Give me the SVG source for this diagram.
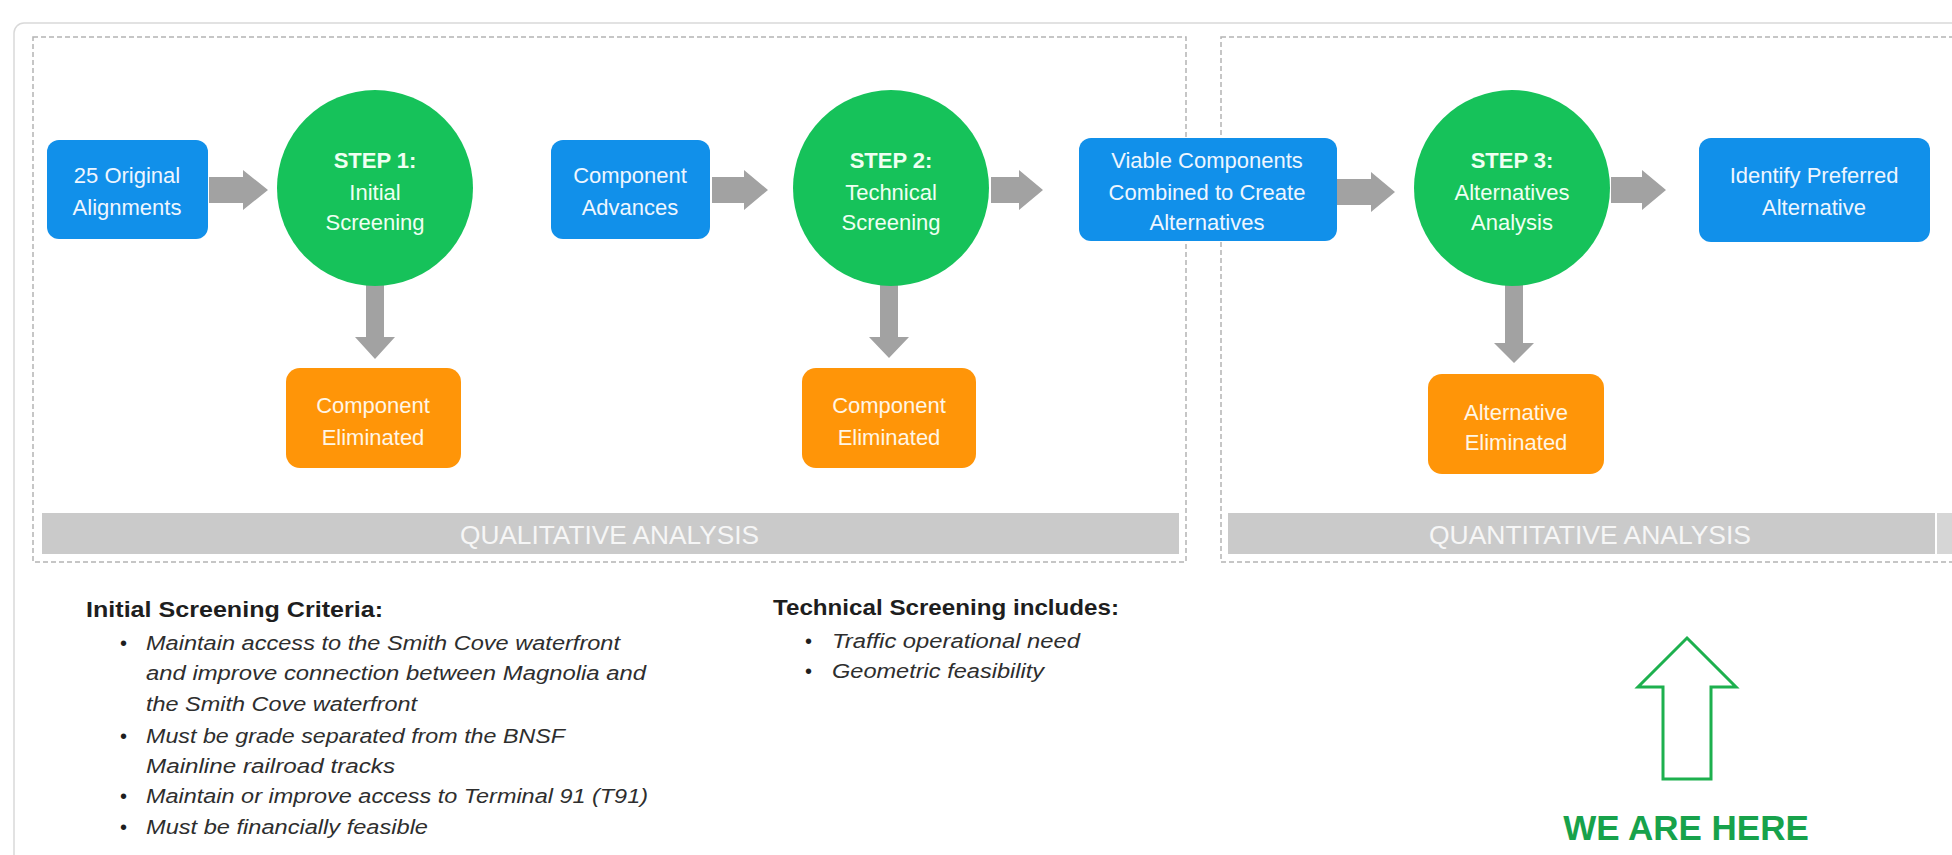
<svg xmlns="http://www.w3.org/2000/svg" width="1952" height="855" viewBox="0 0 1952 855">
<style>
.blue{fill:#1190EA}
.green{fill:#16C25A}
.orange{fill:#FF9508}
.arrow{fill:#A2A2A2}
.bar{fill:#CACACA}
.dash{fill:none;stroke:#B4B4B4;stroke-width:1.5;stroke-dasharray:5 3}
.lbl{font-family:"Liberation Sans",Arial,sans-serif;font-size:22px;fill:#EEF6FF;text-anchor:middle}
.lblg{font-family:"Liberation Sans",Arial,sans-serif;font-size:22px;fill:#EFFFF2;text-anchor:middle}
.lblo{font-family:"Liberation Sans",Arial,sans-serif;font-size:22px;fill:#FFF6E6;text-anchor:middle}
.b{font-weight:bold}
.bartxt{font-family:"Liberation Sans",Arial,sans-serif;font-size:25px;fill:#F6F6F6}
.head{font-family:"Liberation Sans",Arial,sans-serif;font-size:22px;font-weight:bold;fill:#1E1E1E}
.it{font-family:"Liberation Sans",Arial,sans-serif;font-size:20px;font-style:italic;fill:#2E2E2E}
.bul{font-family:"Liberation Sans",Arial,sans-serif;font-size:20px;fill:#1E1E1E}
</style>
<rect width="1952" height="855" fill="#FFFFFF"/>
<g id="frame">
<rect x="14" y="23" width="1960" height="860" rx="10" fill="none" stroke="#D9D9D9" stroke-width="1.5"/>
</g>
<g id="qualitative-panel">
<rect class="dash" x="33" y="37" width="1153" height="525"/>
<rect class="bar" x="42" y="513" width="1137" height="41"/>
<text class="bartxt" x="460" y="544" textLength="299" lengthAdjust="spacingAndGlyphs">QUALITATIVE ANALYSIS</text>
</g>
<g id="quantitative-panel">
<rect class="dash" x="1221" y="37" width="760" height="525"/>
<rect class="bar" x="1228" y="513" width="707" height="41"/>
<rect x="1937" y="513" width="20" height="41" fill="#D6D6D6"/>
<text class="bartxt" x="1429" y="544" textLength="322" lengthAdjust="spacingAndGlyphs">QUANTITATIVE ANALYSIS</text>
</g>
<g id="connectors">
<polygon class="arrow" points="209,177 243,177 243,170 268,190 243,210 243,203 209,203"/>
<polygon class="arrow" points="712,177 744,177 744,170 768,190 744,210 744,203 712,203"/>
<polygon class="arrow" points="991,177 1019,177 1019,170 1043,190 1019,210 1019,203 991,203"/>
<polygon class="arrow" points="1337,179 1371,179 1371,172 1395,192 1371,212 1371,205 1337,205"/>
<polygon class="arrow" points="1611,177 1642,177 1642,170 1666,190 1642,210 1642,203 1611,203"/>
<polygon class="arrow" points="366,284 384,284 384,337 395,337 375,359 355,337 366,337"/>
<polygon class="arrow" points="880,284 898,284 898,337 909,337 889,358 869,337 880,337"/>
<polygon class="arrow" points="1505,284 1523,284 1523,343 1534,343 1514,363 1494,343 1505,343"/>
</g>
<g id="node-original">
<rect class="blue" x="47" y="140" width="161" height="99" rx="12"/>
<text class="lbl" x="127" y="183">25 Original</text>
<text class="lbl" x="127" y="215">Alignments</text>
</g>
<g id="node-step1">
<circle class="green" cx="375" cy="188" r="98"/>
<text class="lblg b" x="375" y="168">STEP 1:</text>
<text class="lblg" x="375" y="200">Initial</text>
<text class="lblg" x="375" y="230">Screening</text>
</g>
<g id="node-advances">
<rect class="blue" x="551" y="140" width="159" height="99" rx="12"/>
<text class="lbl" x="630" y="183">Component</text>
<text class="lbl" x="630" y="215">Advances</text>
</g>
<g id="node-elim1">
<rect class="orange" x="286" y="368" width="175" height="100" rx="14"/>
<text class="lblo" x="373" y="413">Component</text>
<text class="lblo" x="373" y="445">Eliminated</text>
</g>
<g id="node-step2">
<circle class="green" cx="891" cy="188" r="98"/>
<text class="lblg b" x="891" y="168">STEP 2:</text>
<text class="lblg" x="891" y="200">Technical</text>
<text class="lblg" x="891" y="230">Screening</text>
</g>
<g id="node-elim2">
<rect class="orange" x="802" y="368" width="174" height="100" rx="14"/>
<text class="lblo" x="889" y="413">Component</text>
<text class="lblo" x="889" y="445">Eliminated</text>
</g>
<g id="node-viable">
<rect class="blue" x="1079" y="138" width="258" height="103" rx="12"/>
<text class="lbl" x="1207" y="168">Viable Components</text>
<text class="lbl" x="1207" y="200">Combined to Create</text>
<text class="lbl" x="1207" y="230">Alternatives</text>
</g>
<g id="node-step3">
<circle class="green" cx="1512" cy="188" r="98"/>
<text class="lblg b" x="1512" y="168">STEP 3:</text>
<text class="lblg" x="1512" y="200">Alternatives</text>
<text class="lblg" x="1512" y="230">Analysis</text>
</g>
<g id="node-elim3">
<rect class="orange" x="1428" y="374" width="176" height="100" rx="14"/>
<text class="lblo" x="1516" y="420">Alternative</text>
<text class="lblo" x="1516" y="450">Eliminated</text>
</g>
<g id="node-preferred">
<rect class="blue" x="1699" y="138" width="231" height="104" rx="12"/>
<text class="lbl" x="1814" y="183">Identify Preferred</text>
<text class="lbl" x="1814" y="215">Alternative</text>
</g>
<g id="initial-criteria">
<text class="head" x="86" y="617" textLength="297" lengthAdjust="spacingAndGlyphs">Initial Screening Criteria:</text>
<text class="bul" x="120" y="650">•</text>
<text class="it" x="146" y="650" textLength="474" lengthAdjust="spacingAndGlyphs">Maintain access to the Smith Cove waterfront</text>
<text class="it" x="146" y="680" textLength="500" lengthAdjust="spacingAndGlyphs">and improve connection between Magnolia and</text>
<text class="it" x="146" y="711" textLength="271" lengthAdjust="spacingAndGlyphs">the Smith Cove waterfront</text>
<text class="bul" x="120" y="743">•</text>
<text class="it" x="146" y="743" textLength="419" lengthAdjust="spacingAndGlyphs">Must be grade separated from the BNSF</text>
<text class="it" x="146" y="773" textLength="249" lengthAdjust="spacingAndGlyphs">Mainline railroad tracks</text>
<text class="bul" x="120" y="803">•</text>
<text class="it" x="146" y="803" textLength="502" lengthAdjust="spacingAndGlyphs">Maintain or improve access to Terminal 91 (T91)</text>
<text class="bul" x="120" y="834">•</text>
<text class="it" x="146" y="834" textLength="282" lengthAdjust="spacingAndGlyphs">Must be financially feasible</text>
</g>
<g id="technical-criteria">
<text class="head" x="773" y="615" textLength="346" lengthAdjust="spacingAndGlyphs">Technical Screening includes:</text>
<text class="bul" x="805" y="648">•</text>
<text class="it" x="832" y="648" textLength="248" lengthAdjust="spacingAndGlyphs">Traffic operational need</text>
<text class="bul" x="805" y="678">•</text>
<text class="it" x="832" y="678" textLength="212" lengthAdjust="spacingAndGlyphs">Geometric feasibility</text>
</g>
<g id="we-are-here">
<polygon points="1687,638 1736,687 1711,687 1711,779 1663,779 1663,687 1638,687" fill="#FFFFFF" stroke="#1DB04E" stroke-width="3" stroke-linejoin="miter"/>
<text x="1686" y="840" text-anchor="middle" font-family="'Liberation Sans',Arial,sans-serif" font-size="35" font-weight="bold" fill="#17A24B">WE ARE HERE</text>
</g>
</svg>
